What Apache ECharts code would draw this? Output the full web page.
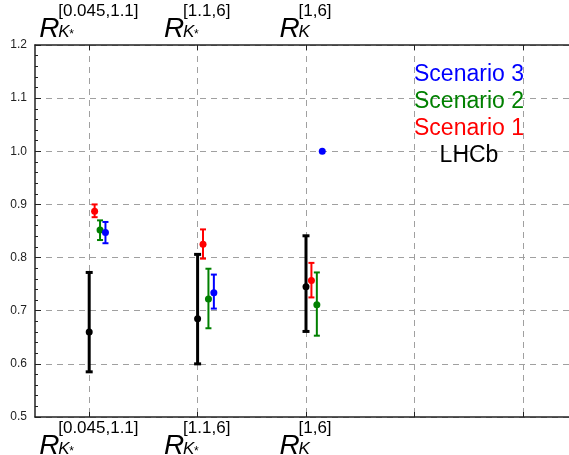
<!DOCTYPE html>
<html>
<head>
<meta charset="utf-8">
<script src="https://cdn.jsdelivr.net/npm/echarts@6/dist/echarts.min.js"></script>
<style>
  html, body { margin: 0; padding: 0; background: #fff; }
  #chart { width: 569px; height: 455px; }
</style>
</head>
<body>
<div id="chart"></div>
<script>
// bins on the x axis
const binPos = [1, 2, 3];
const binRanges = ['[0.045,1.1]', '[1.1,6]', '[1,6]'];
const binMesons = ['K*', 'K*', 'K'];
const gridPos = [1, 2, 3, 4, 5];

// LHCb measurement
const lhcbVal = [0.660, 0.685, 0.745];
const lhcbLo = [0.585, 0.600, 0.661];
const lhcbHi = [0.772, 0.806, 0.841];

// scenario 1
const s1Val = [0.887, 0.825, 0.757];
const s1Lo = [0.876, 0.798, 0.725];
const s1Hi = [0.900, 0.853, 0.790];

// scenario 2
const s2Val = [0.852, 0.722, 0.711];
const s2Lo = [0.833, 0.667, 0.653];
const s2Hi = [0.870, 0.779, 0.772];

// scenario 3 (no error for the last bin)
const s3Val = [0.847, 0.734, 1.000];
const s3Lo = [0.827, 0.704, null];
const s3Hi = [0.867, 0.768, null];

const FONT = '"Liberation Sans", Arial, sans-serif';

// widths used to build the R_{sub}^{sup} labels
const ctx = document.createElement('canvas').getContext('2d');
const measure = (txt, size, italic) => {
  ctx.font = (italic ? 'italic ' : '') + size + 'px ' + FONT;
  return Math.ceil(ctx.measureText(txt).width);
};
const R_SIZE = 28, SUP_SIZE = 17, SUB_SIZE = 17;
const rW = measure('R', R_SIZE, true) - 2;
const kW = measure('K', SUB_SIZE, true) - 1;

const rich = {
  sp: { width: rW, fontSize: SUP_SIZE, lineHeight: 12, align: 'left' },
  R: { width: rW, fontSize: R_SIZE, fontStyle: 'italic', fontFamily: FONT, color: '#000', lineHeight: 24, align: 'left' },
  k: {
    width: kW, fontSize: SUB_SIZE, fontStyle: 'italic', fontFamily: FONT, color: '#000', align: 'left',
    lineHeight: 24, verticalAlign: 'bottom', padding: [8, 0, 0, 0],
  },
};
binRanges.forEach((r, i) => {
  const w = measure(r, SUP_SIZE, false);
  rich['s' + i] = { width: w, fontSize: SUP_SIZE, fontFamily: FONT, color: '#000', lineHeight: 12, align: 'left' };
  rich['t' + i] = {
    width: w - kW, fontSize: 12, fontFamily: FONT, color: '#000', align: 'left',
    lineHeight: 24, verticalAlign: 'bottom', padding: [8, 0, 0, 0],
  };
});

const binLabel = (v) => {
  const i = binPos.indexOf(Math.round(v));
  if (i < 0) return '';
  const star = binMesons[i].endsWith('*') ? '*' : ' ';
  return '{sp| }{s' + i + '|' + binRanges[i] + '}\n{R|R}{k|K}{t' + i + '|' + star + '}';
};

const sets = [
  { name: 'LHCb', color: '#000000', dx: 0, val: lhcbVal, lo: lhcbLo, hi: lhcbHi, lw: 3, cap: 7 },
  { name: 'Scenario 1', color: '#ff0000', dx: 0.05, val: s1Val, lo: s1Lo, hi: s1Hi, lw: 2, cap: 6 },
  { name: 'Scenario 2', color: '#008000', dx: 0.1, val: s2Val, lo: s2Lo, hi: s2Hi, lw: 2, cap: 6 },
  { name: 'Scenario 3', color: '#0000ff', dx: 0.15, val: s3Val, lo: s3Lo, hi: s3Hi, lw: 2, cap: 6 },
];

const series = [];
sets.forEach((s) => {
  const errData = [];
  binPos.forEach((b, i) => {
    if (s.lo[i] != null) errData.push([b + s.dx, s.lo[i], s.hi[i]]);
  });
  series.push({
    name: s.name + ' err',
    type: 'custom',
    data: errData,
    encode: { x: 0, y: [1, 2] },
    silent: true,
    renderItem: (params, api) => {
      const x = api.value(0);
      const top = api.coord([x, api.value(2)]);
      const bot = api.coord([x, api.value(1)]);
      const h = s.cap / 2;
      const st = { stroke: s.color, lineWidth: s.lw };
      return {
        type: 'group',
        children: [
          { type: 'line', shape: { x1: top[0], y1: top[1], x2: bot[0], y2: bot[1] }, style: st },
          { type: 'line', shape: { x1: top[0] - h, y1: top[1], x2: top[0] + h, y2: top[1] }, style: st },
          { type: 'line', shape: { x1: bot[0] - h, y1: bot[1], x2: bot[0] + h, y2: bot[1] }, style: st },
        ],
      };
    },
  });
  series.push({
    name: s.name,
    type: 'scatter',
    symbol: 'circle',
    symbolSize: 7,
    itemStyle: { color: s.color, opacity: 1 },
    data: binPos.map((b, i) => [b + s.dx, s.val[i]]),
  });
});

const dashed = { color: '#a0a0a0', type: [6, 5], width: 1 };
const frame = { color: '#222', width: 1.5 };
const legendFont = { fontSize: 23, lineHeight: 27, fontFamily: FONT, fontWeight: 'normal' };

const chart = echarts.init(document.getElementById('chart'), null, { renderer: 'canvas' });
chart.setOption({
  animation: false,
  textStyle: { fontFamily: FONT },
  title: {
    text: '{b|Scenario 3}\n{g|Scenario 2}\n{r|Scenario 1}\n{k|LHCb}',
    left: 464,
    top: 56,
    textAlign: 'center',
    textStyle: {
      fontWeight: 'normal',
      rich: {
        b: Object.assign({ color: '#0000ff' }, legendFont),
        g: Object.assign({ color: '#008000' }, legendFont),
        r: Object.assign({ color: '#ff0000' }, legendFont),
        k: Object.assign({ color: '#000000' }, legendFont),
      },
    },
  },
  grid: { left: 35, top: 45, width: 542, bottom: 38, containLabel: false, outerBoundsMode: 'none' },
  xAxis: [
    {
      type: 'value',
      position: 'bottom',
      min: 0.5,
      max: 5.5,
      axisLine: { show: true, lineStyle: frame },
      axisTick: { show: true, inside: true, length: 5, customValues: gridPos, lineStyle: { color: '#222' } },
      axisLabel: { customValues: binPos, formatter: binLabel, rich: rich, margin: 5, color: '#000' },
      splitLine: { show: true, lineStyle: dashed },
    },
    {
      type: 'value',
      position: 'top',
      min: 0.5,
      max: 5.5,
      axisLine: { show: true, lineStyle: frame },
      axisTick: { show: true, inside: true, length: 5, customValues: gridPos, lineStyle: { color: '#222' } },
      axisLabel: { customValues: binPos, formatter: binLabel, rich: rich, margin: 4, color: '#000' },
      splitLine: { show: false },
    },
  ],
  yAxis: {
    type: 'value',
    min: 0.5,
    max: 1.2,
    interval: 0.1,
    axisLine: { show: true, lineStyle: frame },
    axisTick: { show: true, inside: true, length: 6, lineStyle: { color: '#222' } },
    minorTick: { show: true, splitNumber: 5, length: 3, lineStyle: { color: '#222' } },
    axisLabel: { formatter: (v) => v.toFixed(1), fontSize: 12, color: '#222', margin: 8 },
    splitLine: { show: true, lineStyle: dashed },
  },
  series: series,
});
</script>
</body>
</html>
